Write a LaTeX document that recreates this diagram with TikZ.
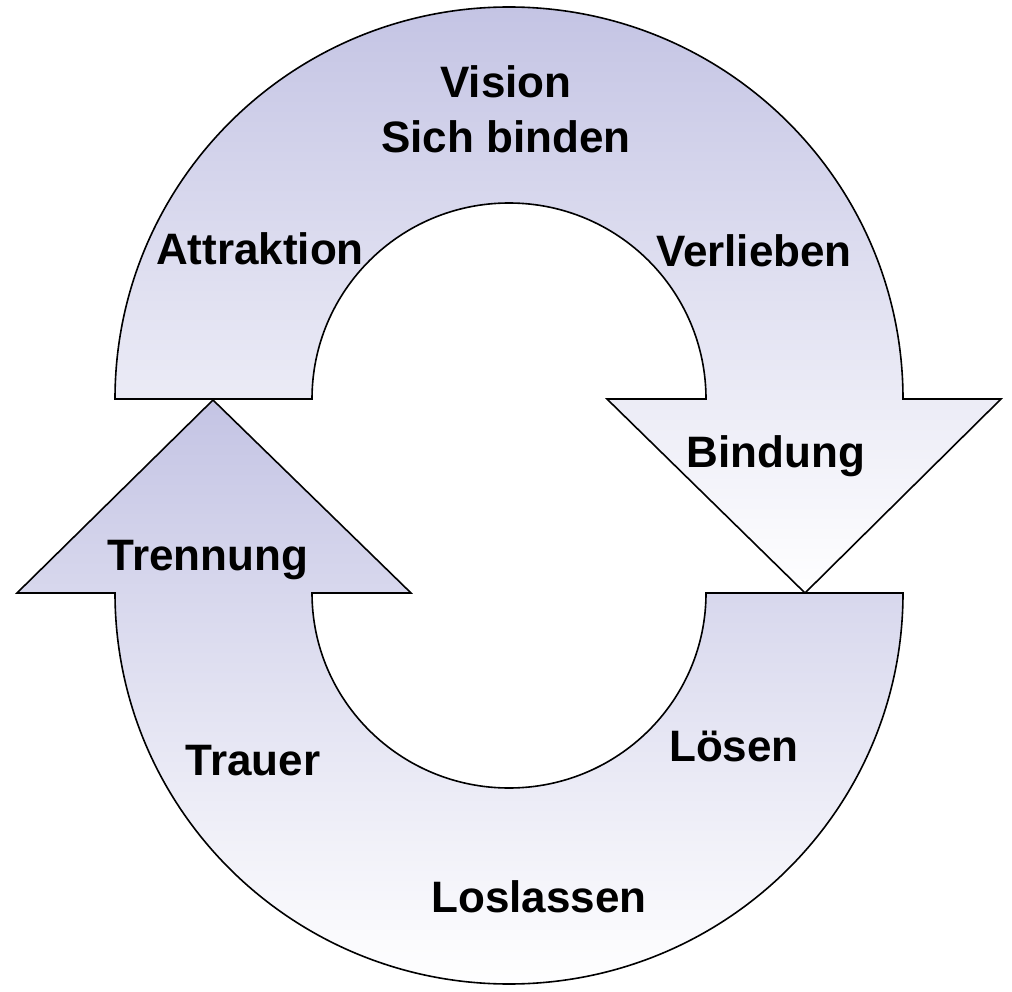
\documentclass[tikz,border=0pt]{standalone}
\usepackage{fontspec}
\setmainfont{Liberation Sans}
\definecolor{lav}{RGB}{196,196,228}
\begin{document}
\begin{tikzpicture}[x=1pt,y=-1pt,
  band/.style={draw=black,line width=1.6pt,line join=miter,top color=lav,bottom color=white},
  lbl/.style={anchor=base,inner sep=0pt,font=\fontsize{44}{55}\selectfont\bfseries}]
\useasboundingbox (0,0) rectangle (1012,992);
% top arrow (clockwise, pointing down on the right)
\draw[band] (115,399) arc[start angle=180,end angle=360,x radius=394,y radius=392]
  -- (1001,399) -- (805,593) -- (607,399) -- (706,399)
  arc[start angle=360,end angle=180,x radius=197,y radius=196] -- cycle;
% bottom arrow (pointing up on the left)
\draw[band] (903,593) arc[start angle=0,end angle=180,x radius=394,y radius=391]
  -- (17,593) -- (213,400) -- (411,593) -- (312,593)
  arc[start angle=180,end angle=0,x radius=197,y radius=195] -- cycle;
% labels
\node[lbl] (vision) at (506,98) {Vision};
\node[lbl] (sich) at (506,153) {Sich binden};
\node[lbl] (attr) at (260,265) {Attraktion};
\node[lbl] (verl) at (754,267) {Verlieben};
\node[lbl] (bind) at (776,467) {Bindung};
\node[lbl] (trenn) at (208,570) {Trennung};
\node[lbl] (trauer) at (253,775) {Trauer};
\node[lbl] (loesen) at (734,761) {Lösen};
\node[lbl] (losl) at (539,912) {Loslassen};
\end{tikzpicture}
\end{document}
